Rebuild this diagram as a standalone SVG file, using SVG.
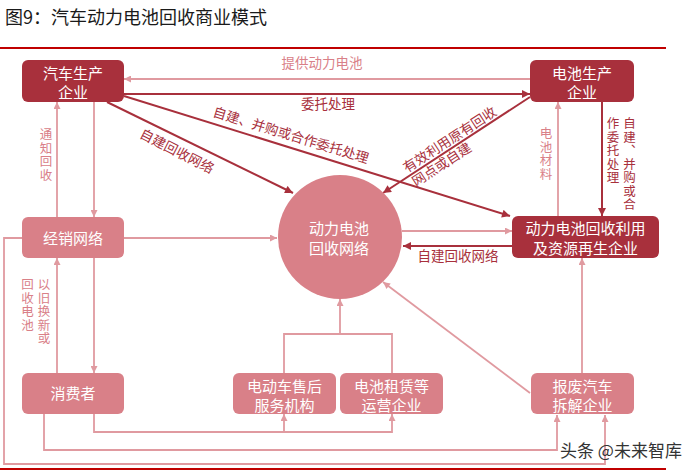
<svg xmlns="http://www.w3.org/2000/svg" width="700" height="474" viewBox="0 0 700 474">
<style>
text{font-family:"Noto Sans CJK SC","Noto Sans",sans-serif}
.title{font-size:18px;fill:#1a1a1a}
.nd{fill:#a8303c}
.nl{fill:#d98088}
.nt{font-size:15px;fill:#fff;text-anchor:middle}
.ld{font-size:13.5px;fill:#a8303c}
.ll{font-size:13.5px;fill:#d98088}
.vt{font-size:12.5px;writing-mode:tb;letter-spacing:1px}
.cd{stroke:#a8303c;stroke-width:2;fill:none}
.cl{stroke:#e09aa0;stroke-width:1.8;fill:none}
.mid{text-anchor:middle}
</style>
<defs>
<marker id="ad" viewBox="0 0 10 10" refX="10" refY="5" markerWidth="9" markerHeight="8" markerUnits="userSpaceOnUse" orient="auto"><path d="M0,0 L10,5 L0,10 z" fill="#a8303c"/></marker>
<marker id="al" viewBox="0 0 10 10" refX="10" refY="5" markerWidth="8" markerHeight="7" markerUnits="userSpaceOnUse" orient="auto"><path d="M0,0 L10,5 L0,10 z" fill="#e09aa0"/></marker>
</defs>
<rect width="700" height="474" fill="#fff"/>
<text class="title" x="5" y="24">图9：汽车动力电池回收商业模式</text>
<line x1="0" y1="48" x2="666" y2="48" stroke="#c00000" stroke-width="2"/>
<line x1="0" y1="469" x2="666" y2="469" stroke="#c00000" stroke-width="2"/>

<g id="connectors">
<path class="cl" d="M530,79 H124" marker-end="url(#al)"/>
<path class="cd" d="M124,94 H530" marker-end="url(#ad)"/>
<path class="cd" d="M124,96 L510,216" marker-end="url(#ad)"/>
<path class="cd" d="M107,102 L293,193" marker-end="url(#ad)"/>
<path class="cd" d="M530,97 L383,193" marker-end="url(#ad)"/>
<path class="cd" d="M512,246 H403" marker-end="url(#ad)"/>
<path class="cd" d="M602,102 V216" marker-end="url(#ad)"/>
<path class="cl" d="M558,216 V102" marker-end="url(#al)"/>
<path class="cl" d="M94,102 V217" marker-end="url(#al)"/>
<path class="cl" d="M57,217 V102" marker-end="url(#al)"/>
<path class="cl" d="M124,238 H277" marker-end="url(#al)"/>
<path class="cl" d="M94,258 V373" marker-end="url(#al)"/>
<path class="cl" d="M57,373 V258" marker-end="url(#al)"/>
<path class="cl" d="M22,238 H4 V464 H605 V415" marker-end="url(#al)"/>
<path class="cl" d="M44,414 V450 H557 V415" marker-end="url(#al)"/>
<path class="cl" d="M94,414 V432 H392 V414" marker-end="url(#al)"/>
<path class="cl" d="M284,432 V414" marker-end="url(#al)"/>
<path class="cl" d="M284,373 V334 H392 V373"/>
<path class="cl" d="M340,334 V299" marker-end="url(#al)"/>
<path class="cl" d="M402,231 H512" marker-end="url(#al)"/>
<path class="cl" d="M530,393 L383,282" marker-end="url(#al)"/>
<path class="cl" d="M582,373 V258" marker-end="url(#al)"/>

<text class="ll mid" x="322" y="68">提供动力电池</text>
<text class="ld mid" x="328" y="109">委托处理</text>
<text class="ld mid" transform="translate(291,135) rotate(17)" y="5">自建、并购或合作委托处理</text>
<text class="ld mid" transform="translate(177,151) rotate(27)" y="5">自建回收网络</text>
<g transform="translate(409,176) rotate(-33)">
<text class="ld" x="0" y="-3.5">有效利用原有回收</text>
<text class="ld" x="0" y="13">网点或自建</text>
</g>
<text class="ld mid" x="458" y="261">自建回收网络</text>
<text class="ll vt" x="46" y="128">通知回收</text>
<text class="ll vt" x="44" y="278">以旧换新或</text>
<text class="ll vt" x="27.5" y="278">回收电池</text>
<text class="ll vt" x="546" y="127">电池材料</text>
<text class="ld vt" x="629.5" y="117">自建、并购或合</text>
<text class="ld vt" x="613" y="117">作委托处理</text>
</g>

<g id="car-maker"><rect class="nd" x="22" y="60" width="102" height="42" rx="6"/><text class="nt" x="73" y="78.5">汽车生产</text><text class="nt" x="73" y="98">企业</text></g>
<g id="battery-maker"><rect class="nd" x="530" y="60" width="104" height="42" rx="6"/><text class="nt" x="582" y="78.5">电池生产</text><text class="nt" x="582" y="98">企业</text></g>
<g id="recycler"><rect class="nd" x="512" y="216" width="147" height="42" rx="6"/><text class="nt" x="585.5" y="234">动力电池回收利用</text><text class="nt" x="585.5" y="253.5">及资源再生企业</text></g>
<g id="dealer"><rect class="nl" x="22" y="217" width="102" height="41" rx="6"/><text class="nt" x="73" y="243.5">经销网络</text></g>
<g id="consumer"><rect class="nl" x="22" y="373" width="102" height="41" rx="6"/><text class="nt" x="73" y="399">消费者</text></g>
<g id="aftersales"><rect class="nl" x="233" y="373" width="103" height="41" rx="6"/><text class="nt" x="284.5" y="391.5">电动车售后</text><text class="nt" x="284.5" y="410.5">服务机构</text></g>
<g id="leasing"><rect class="nl" x="340" y="373" width="103" height="41" rx="6"/><text class="nt" x="391.5" y="391.5">电池租赁等</text><text class="nt" x="391.5" y="410.5">运营企业</text></g>
<g id="scrap"><rect class="nl" x="531" y="373" width="103" height="41" rx="6"/><text class="nt" x="582.5" y="391.5">报废汽车</text><text class="nt" x="582.5" y="410.5">拆解企业</text></g>
<g id="network"><circle class="nl" cx="340" cy="237" r="62"/><text class="nt" x="339" y="234">动力电池</text><text class="nt" x="339" y="253.5">回收网络</text></g>

<text x="560" y="457" font-size="17" fill="#333">头条 @未来智库</text>
</svg>
